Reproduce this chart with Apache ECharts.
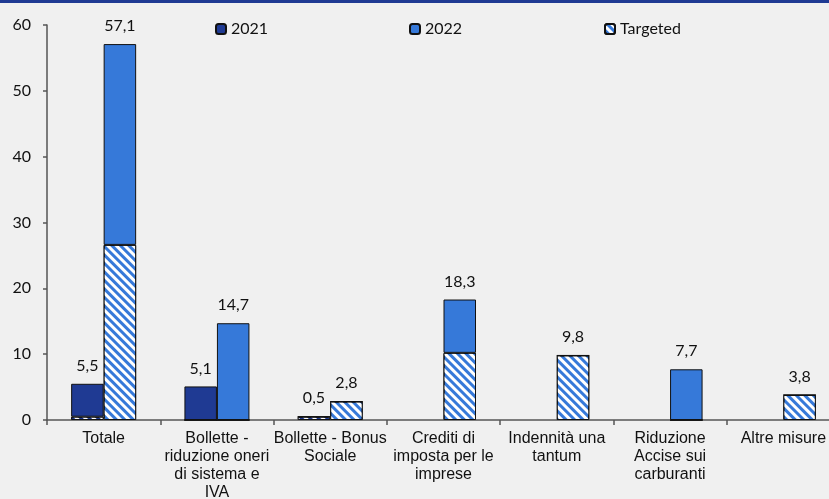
<!DOCTYPE html>
<html><head><meta charset="utf-8">
<script src="https://cdn.jsdelivr.net/npm/echarts@6/dist/echarts.min.js"></script>
<style>html,body{margin:0;padding:0;background:#f0f0f0}#c{width:829px;height:499px}</style>
</head><body><div id="c"></div>
<script>
const categories = ['Totale','Bollette -\nriduzione oneri\ndi sistema e\nIVA','Bollette - Bonus\nSociale','Crediti di\nimposta per le\nimprese','Indennità una\ntantum','Riduzione\nAccise sui\ncarburanti','Altre misure'];
const total2021 = [5.5, 5.1, 0.5, null, null, null, null];
const targeted2021 = [0.5, 0, 0.5, null, null, null, null];
const total2022 = [57.1, 14.7, 2.8, 18.3, 9.8, 7.7, 3.8];
const targeted2022 = [26.6, 0, 2.8, 10.2, 9.8, 0, 3.8];
const yTicks = [0, 10, 20, 30, 40, 50, 60];

const C2021 = '#1f3a93', C2022 = '#3679d9';
const rest = (t, g) => t.map((v, i) => v == null ? null : +(v - g[i]).toFixed(2));
const fmt = v => v == null ? '' : String(v.toFixed(1)).replace('.', ',');
const decal = { symbol: 'rect', symbolSize: 1, dashArrayX: [1, 0], dashArrayY: [2.2, 2.2], rotation: Math.PI / 4, color: '#ffffff' };
const border = { borderColor: '#111', borderWidth: 1 };
const valLabel = tot => ({ show: true, position: 'top', distance: 10, fontFamily: 'Lato', fontSize: 16, color: '#111',
  formatter: p => fmt(tot[p.dataIndex]) });
const legText = { fontFamily: 'Lato', fontSize: 16, color: '#111' };

const chart = echarts.init(document.getElementById('c'));
chart.setOption({
  backgroundColor: '#f0f0f0',
  animation: false,
  graphic: [{ type: 'rect', left: 0, top: 0, shape: { width: 829, height: 3 }, style: { fill: '#1f3a93' } }],
  legend: [
    { data: ['2021'], left: 210, top: 16, itemWidth: 10, itemHeight: 10, textStyle: legText },
    { data: ['2022'], left: 404, top: 16, itemWidth: 10, itemHeight: 10, textStyle: legText },
    { data: ['Targeted'], left: 599, top: 16, itemWidth: 10, itemHeight: 10, textStyle: legText }
  ],
  grid: { left: 47, width: 793, top: 25, bottom: 79, containLabel: false, outerBoundsMode: 'none' },
  xAxis: {
    type: 'category', data: categories,
    axisLine: { lineStyle: { color: '#555', width: 1.5 } },
    axisTick: { show: true, length: 5, lineStyle: { color: '#555', width: 1.5 } },
    axisLabel: { interval: 0, margin: 10, fontFamily: 'Liberation Sans', fontSize: 16, color: '#111', lineHeight: 18 }
  },
  yAxis: {
    type: 'value', min: yTicks[0], max: yTicks[yTicks.length - 1], interval: 10,
    splitLine: { show: false },
    axisLine: { show: true, lineStyle: { color: '#555', width: 1.5 } },
    axisTick: { show: true, length: 4, lineStyle: { color: '#555', width: 1.5 } },
    axisLabel: { margin: 16, fontFamily: 'Lato', fontSize: 16, color: '#111' }
  },
  series: [
    { name: 'Targeted 2021', type: 'bar', stack: 'a', barWidth: 32.5, barGap: '0%', data: targeted2021,
      itemStyle: Object.assign({ color: C2021, decal: decal }, border) },
    { name: 'Targeted', type: 'bar', stack: 'b', barWidth: 32.5, barGap: '0%', data: targeted2022,
      itemStyle: Object.assign({ color: C2022, decal: decal }, border) },
    { name: '2021', type: 'bar', stack: 'a', barWidth: 32.5, barGap: '0%', data: rest(total2021, targeted2021),
      itemStyle: Object.assign({ color: C2021 }, border), label: valLabel(total2021) },
    { name: '2022', type: 'bar', stack: 'b', barWidth: 32.5, barGap: '0%', data: rest(total2022, targeted2022),
      itemStyle: Object.assign({ color: C2022 }, border), label: valLabel(total2022) }
  ]
});
</script></body></html>
